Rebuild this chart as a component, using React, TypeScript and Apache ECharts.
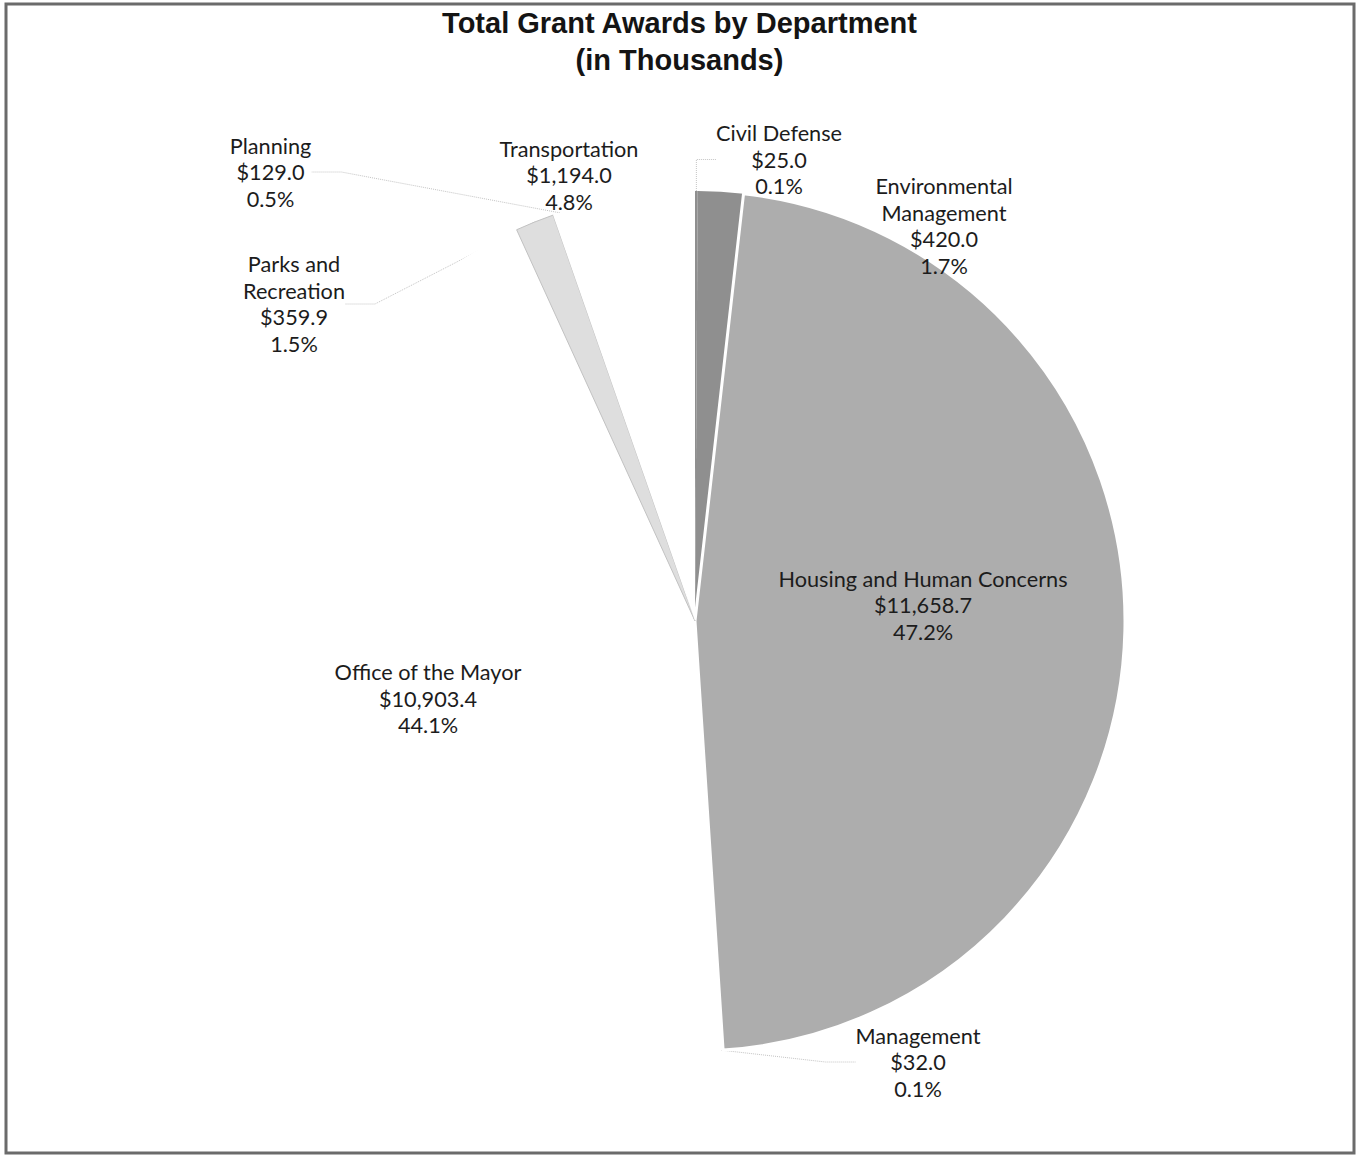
import React, { useEffect, useRef } from "react";
import * as echarts from "echarts";

// ---- data ----
const categories = [
  "Civil Defense",
  "Environmental Management",
  "Housing and Human Concerns",
  "Management",
  "Office of the Mayor",
  "Parks and Recreation",
  "Planning",
  "Transportation",
];
const values = [25.0, 420.0, 11658.7, 32.0, 10903.4, 359.9, 129.0, 1194.0];
const labelNames = [
  "Civil Defense",
  "Environmental\nManagement",
  "Housing and Human Concerns",
  "Management",
  "Office of the Mayor",
  "Parks and\nRecreation",
  "Planning",
  "Transportation",
];

// ---- layout / style ----
const labelCenters: [number, number][] = [
  [779, 159.5],
  [944, 226],
  [923, 605],
  [918, 1062],
  [428, 698.5],
  [294, 304],
  [270.5, 172],
  [569, 175],
];
const sliceColors = ["#8f8f8f", "#8f8f8f", "#adadad", "#ffffff", "#ffffff", "#dedede", "#ffffff", "#ffffff"];
const insideLabels = [false, false, true, false, true, false, false, false];
const noLine = [false, true, true, false, true, false, false, true];

const total = values.reduce((a, b) => a + b, 0);
const fmtMoney = (v: number) =>
  "$" + v.toLocaleString("en-US", { minimumFractionDigits: 1, maximumFractionDigits: 1 });

export default function App() {
  const ref = useRef<HTMLDivElement>(null);
  useEffect(() => {
    if (!ref.current) return;
    const chart = echarts.init(ref.current, undefined, { renderer: "svg" });
    const data = categories.map((name, i) => {
      const item: any = {
        name,
        value: values[i],
        itemStyle: { color: sliceColors[i] },
      };
      if (i === 2) item.itemStyle = { color: sliceColors[i], borderColor: "#ffffff", borderWidth: 3 };
      if (i === 5) item.itemStyle = { color: sliceColors[i], borderColor: "#c2c2c2", borderWidth: 1 };
      if (insideLabels[i]) item.label = { position: "inside" };
      if (noLine[i]) item.labelLine = { show: false };
      return item;
    });
    chart.setOption({
      animation: false,
      backgroundColor: "#ffffff",
      title: {
        text: "Total Grant Awards by Department\n(in Thousands)",
        left: "center",
        top: 4,
        padding: 0,
        textStyle: {
          fontFamily: "Liberation Sans",
          fontWeight: "bold",
          fontSize: 29,
          lineHeight: 37,
          color: "#141414",
        },
      },
      graphic: [
        {
          type: "rect",
          shape: { x: 6, y: 4, width: 1348, height: 1149 },
          style: { fill: "none", stroke: "#6b6b6b", lineWidth: 3 },
          z: 100,
        },
      ],
      series: [
        {
          type: "pie",
          center: [695, 621],
          radius: 430,
          startAngle: 90,
          clockwise: true,
          avoidLabelOverlap: false,
          data,
          label: {
            show: true,
            position: "outside",
            fontFamily: "Lato",
            fontSize: 21.7,
            lineHeight: 26.5,
            color: "#1c1c1c",
            align: "center",
            formatter: (p: any) =>
              labelNames[p.dataIndex] +
              "\n" +
              fmtMoney(p.value) +
              "\n" +
              ((p.value / total) * 100).toFixed(1) +
              "%",
          },
          labelLine: {
            show: true,
            lineStyle: { color: "#c4c4c4", width: 1, type: "dotted" },
          },
          labelLayout: (params: any) => {
            const c = labelCenters[params.dataIndex];
            return { x: c[0], y: c[1], align: "center", verticalAlign: "middle" };
          },
          emphasis: { disabled: true },
        },
      ],
    });
    return () => chart.dispose();
  }, []);
  return (
    <div
      ref={ref}
      style={{ position: "absolute", left: 0, top: 0, width: 1359, height: 1156 }}
    />
  );
}
